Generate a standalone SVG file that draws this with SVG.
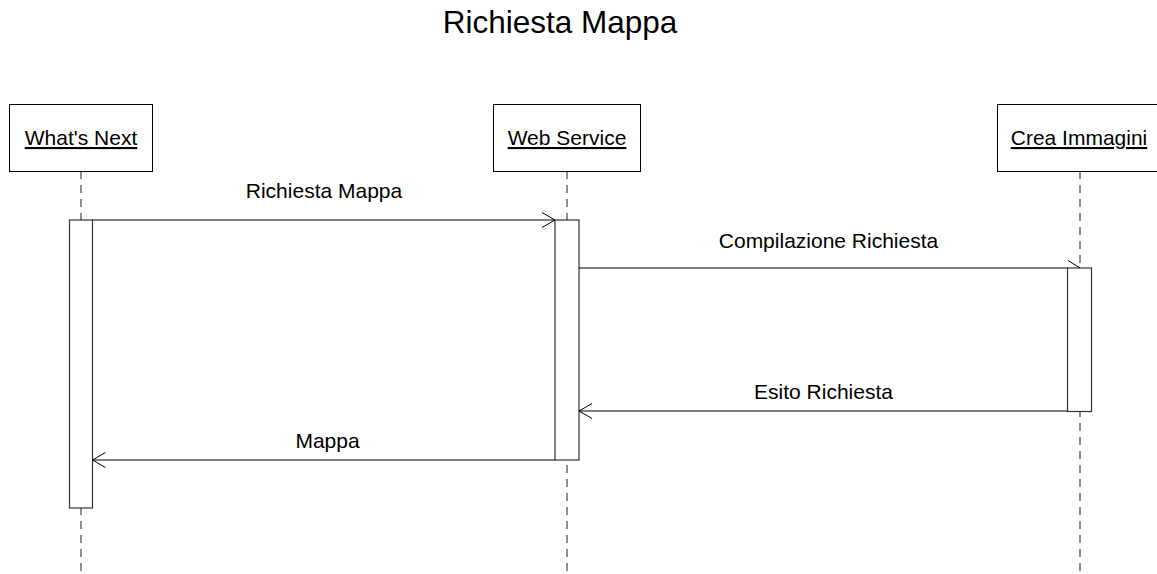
<svg xmlns="http://www.w3.org/2000/svg" width="1157" height="574" viewBox="0 0 1157 574">
<style>
  text { font-family: "Liberation Sans", Arial, sans-serif; fill: #000; }
  .title { font-size: 31.5px; }
  .lbl { font-size: 21px; }
  .box { fill: #fff; stroke: #000; stroke-width: 1; }
  .life { stroke: #444; stroke-width: 1.2; stroke-dasharray: 8 6; fill: none; }
  .act { fill: #fff; stroke: #333; stroke-width: 1.2; }
  .msg { stroke: #000; stroke-width: 1; fill: none; }
  .head { stroke: #000; stroke-width: 1; fill: none; }
</style>
<rect width="1157" height="574" fill="#fff"/>
<text class="title" x="560" y="33" text-anchor="middle">Richiesta Mappa</text>

<!-- lifelines -->
<g id="lifelines">
  <line class="life" x1="81" y1="171" x2="81" y2="574"/>
  <line class="life" x1="567" y1="171" x2="567" y2="574"/>
  <line class="life" x1="1080" y1="171" x2="1080" y2="574"/>
</g>

<g id="whats-next">
  <rect class="box" x="9.5" y="104.5" width="143" height="67"/>
  <text class="lbl" x="81" y="145" text-anchor="middle" text-decoration="underline">What's Next</text>
  <rect class="act" x="69.5" y="220" width="23" height="288"/>
</g>
<g id="web-service">
  <rect class="box" x="493.5" y="104.5" width="147" height="67"/>
  <text class="lbl" x="567" y="145" text-anchor="middle" text-decoration="underline">Web Service</text>
  <rect class="act" x="555" y="220" width="24" height="240"/>
</g>
<g id="crea-immagini">
  <rect class="box" x="997.5" y="104.5" width="160" height="67"/>
  <text class="lbl" x="1079" y="145" text-anchor="middle" text-decoration="underline">Crea Immagini</text>
  <rect class="act" x="1067.5" y="268" width="24" height="143.5"/>
</g>

<g id="connectors">
  <line class="msg" x1="92.5" y1="220" x2="555" y2="220"/>
  <polyline class="head" points="542,212.5 555,220 542,227.5"/>
  <text class="lbl" x="324" y="198" text-anchor="middle">Richiesta Mappa</text>

  <line class="msg" x1="579" y1="268" x2="1067.5" y2="268"/>
  <polyline class="head" points="1068,260.5 1080,268"/>
  <text class="lbl" x="828.5" y="248" text-anchor="middle">Compilazione Richiesta</text>

  <line class="msg" x1="1067.5" y1="411" x2="579" y2="411"/>
  <polyline class="head" points="592,403.5 579,411 592,418.5"/>
  <text class="lbl" x="823.5" y="399" text-anchor="middle">Esito Richiesta</text>

  <line class="msg" x1="555" y1="460" x2="92.5" y2="460"/>
  <polyline class="head" points="105.5,452.5 92.5,460 105.5,467.5"/>
  <text class="lbl" x="327.5" y="448" text-anchor="middle">Mappa</text>
</g>
</svg>
